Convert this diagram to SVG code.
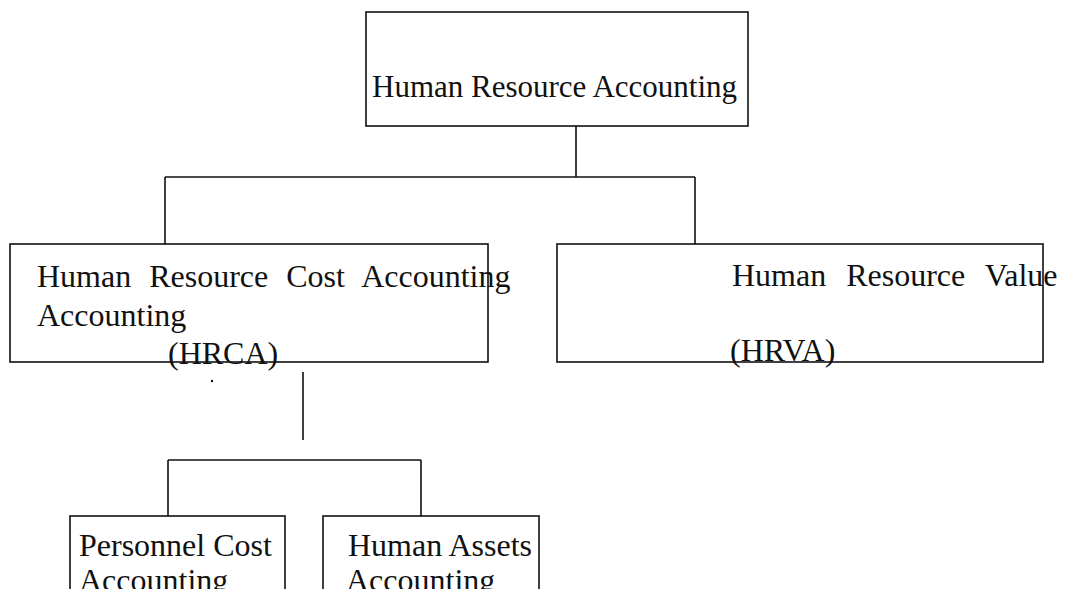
<svg xmlns="http://www.w3.org/2000/svg" width="1066" height="589" viewBox="0 0 1066 589">
<style>
.box{fill:none;stroke:#111;stroke-width:1.6}
.ln{fill:none;stroke:#111;stroke-width:1.6}
text{font-family:"Liberation Serif","Times New Roman",serif;font-size:32px;fill:#111}
</style>
<rect width="1066" height="589" fill="#fff"/>
<g id="connectors">
<path class="ln" d="M576,126 V177 M165,177 H695 M165,177 V244 M695,177 V244"/>
<path class="ln" d="M303,372 V440 M168,460 H421 M168,460 V516 M421,460 V516"/>
<circle cx="212" cy="381" r="1.2" fill="#111"/>
</g>
<g id="hra">
<rect class="box" x="366" y="12" width="382" height="114"/>
<text x="372" y="97" style="font-size:31px">Human Resource Accounting</text>
</g>
<g id="hrca">
<rect class="box" x="10" y="244" width="478" height="118"/>
<text x="37" y="287" style="word-spacing:10px">Human Resource Cost Accounting</text>
<text x="37" y="326">Accounting</text>
<text x="168" y="364">(HRCA)</text>
</g>
<g id="hrva">
<rect class="box" x="557" y="244" width="486" height="118"/>
<text x="732" y="286" style="word-spacing:12px">Human Resource Value</text>
<text x="730" y="361">(HRVA)</text>
</g>
<g id="pca">
<rect class="box" x="70" y="516" width="215" height="90"/>
<text x="79" y="556">Personnel Cost</text>
<text x="79" y="591">Accounting</text>
</g>
<g id="haa">
<rect class="box" x="323" y="516" width="216" height="90"/>
<text x="348" y="556">Human Assets</text>
<text x="346" y="591">Accounting</text>
</g>
</svg>
